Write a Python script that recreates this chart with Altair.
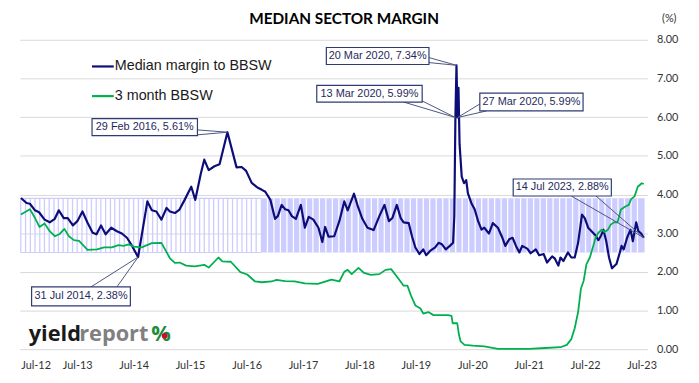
import altair as alt
import pandas as pd

# ---------------- data (decimal years, %) ----------------
margin_years = [2012.50, 2012.60, 2012.66, 2012.75, 2012.82, 2012.92, 2013.01, 2013.10, 2013.17, 2013.26,
                2013.33, 2013.42, 2013.50, 2013.59, 2013.68, 2013.77, 2013.84, 2013.92, 2014.00, 2014.10,
                2014.20, 2014.29, 2014.38, 2014.47, 2014.578, 2014.74, 2014.82, 2014.90, 2014.99, 2015.08,
                2015.14, 2015.23, 2015.31, 2015.40, 2015.52, 2015.59, 2015.69, 2015.75, 2015.83, 2015.93,
                2016.02, 2016.161, 2016.32, 2016.41, 2016.49, 2016.59, 2016.69, 2016.77, 2016.83, 2016.92,
                2017.00, 2017.05, 2017.12, 2017.18, 2017.24, 2017.30, 2017.37, 2017.46, 2017.53, 2017.60,
                2017.68, 2017.77, 2017.84, 2017.89, 2017.95, 2018.05, 2018.14, 2018.23, 2018.29, 2018.40,
                2018.47, 2018.55, 2018.64, 2018.75, 2018.85, 2018.94, 2019.02, 2019.08, 2019.16, 2019.23,
                2019.28, 2019.37, 2019.43, 2019.49, 2019.56, 2019.63, 2019.68, 2019.75, 2019.84, 2019.90,
                2019.96, 2020.03, 2020.10, 2020.158, 2020.178, 2020.197, 2020.216, 2020.235, 2020.254, 2020.273,
                2020.31, 2020.35, 2020.39, 2020.42, 2020.48, 2020.54, 2020.60, 2020.66, 2020.71, 2020.79,
                2020.86, 2020.95, 2021.03, 2021.08, 2021.15, 2021.21, 2021.27, 2021.33, 2021.38, 2021.47,
                2021.53, 2021.62, 2021.68, 2021.76, 2021.82, 2021.91, 2021.96, 2022.02, 2022.06, 2022.11,
                2022.19, 2022.25, 2022.31, 2022.37, 2022.44, 2022.49, 2022.55, 2022.61, 2022.68, 2022.73,
                2022.78, 2022.82, 2022.87, 2022.92, 2022.97, 2023.05, 2023.11, 2023.14, 2023.18, 2023.24,
                2023.30, 2023.34, 2023.40, 2023.44, 2023.49, 2023.535]
margin_values = [3.91, 3.78, 3.76, 3.59, 3.54, 3.35, 3.28, 3.37, 3.59, 3.39,
                 3.39, 3.20, 3.31, 3.56, 3.27, 3.01, 2.97, 3.20, 2.97, 3.14,
                 3.05, 2.99, 2.88, 2.67, 2.38, 3.82, 3.59, 3.56, 3.35, 3.65,
                 3.56, 3.52, 3.61, 3.86, 4.20, 3.86, 4.54, 4.90, 4.63, 4.73,
                 4.78, 5.61, 4.70, 4.71, 4.61, 4.30, 4.18, 4.12, 4.07, 3.86,
                 3.37, 3.44, 3.73, 3.62, 3.59, 3.44, 3.37, 3.73, 3.14, 3.42,
                 3.35, 3.14, 2.77, 3.16, 2.91, 2.92, 3.31, 3.82, 3.59, 4.02,
                 3.69, 3.37, 3.14, 3.08, 3.44, 3.73, 3.31, 3.39, 3.73, 3.39,
                 3.28, 3.26, 2.92, 2.63, 2.46, 2.58, 2.43, 2.54, 2.63, 2.75,
                 2.71, 2.58, 2.67, 2.75, 3.44, 5.99, 7.34, 5.99, 6.76, 5.30,
                 4.46, 4.29, 4.37, 4.03, 3.78, 3.61, 3.31, 3.09, 3.14, 2.99,
                 3.26, 3.14, 2.88, 2.67, 2.84, 2.88, 2.67, 2.50, 2.67, 2.60,
                 2.48, 2.58, 2.43, 2.46, 2.24, 2.40, 2.34, 2.16, 2.37, 2.28,
                 2.50, 2.37, 2.37, 2.75, 3.48, 3.39, 3.14, 3.05, 2.94, 2.82,
                 2.94, 3.09, 2.79, 2.37, 2.09, 2.20, 2.50, 2.67, 2.58, 2.88,
                 3.09, 2.79, 3.28, 3.05, 2.99, 2.88]

bbsw_years = [2012.50, 2012.66, 2012.75, 2012.83, 2012.92, 2013.01, 2013.10, 2013.18, 2013.27, 2013.35,
              2013.44, 2013.53, 2013.68, 2013.85, 2013.97, 2014.11, 2014.23, 2014.32, 2014.41, 2014.50,
              2014.64, 2014.82, 2014.99, 2015.14, 2015.23, 2015.31, 2015.43, 2015.58, 2015.75, 2015.83,
              2016.00, 2016.07, 2016.22, 2016.39, 2016.51, 2016.65, 2016.77, 2016.94, 2017.03, 2017.18,
              2017.35, 2017.53, 2017.76, 2018.00, 2018.14, 2018.23, 2018.29, 2018.36, 2018.48, 2018.58,
              2018.70, 2018.85, 2018.96, 2019.06, 2019.17, 2019.28, 2019.35, 2019.41, 2019.49, 2019.58,
              2019.63, 2019.72, 2019.81, 2019.96, 2020.07, 2020.13, 2020.15, 2020.23, 2020.26, 2020.29,
              2020.36, 2020.51, 2020.71, 2020.95, 2021.15, 2021.50, 2021.79, 2022.06, 2022.17, 2022.25,
              2022.31, 2022.37, 2022.42, 2022.47, 2022.52, 2022.58, 2022.64, 2022.68, 2022.73, 2022.79,
              2022.84, 2022.90, 2022.95, 2023.01, 2023.07, 2023.13, 2023.21, 2023.27, 2023.31, 2023.37,
              2023.43, 2023.50, 2023.535]
bbsw_values = [3.48, 3.62, 3.39, 3.16, 3.25, 3.05, 2.92, 2.97, 3.11, 2.92,
               2.82, 2.80, 2.57, 2.58, 2.63, 2.63, 2.69, 2.67, 2.71, 2.65,
               2.63, 2.74, 2.75, 2.35, 2.23, 2.24, 2.16, 2.14, 2.18, 2.11,
               2.37, 2.27, 2.26, 1.99, 1.93, 1.75, 1.73, 1.75, 1.79, 1.76,
               1.75, 1.70, 1.69, 1.80, 1.75, 2.00, 2.05, 1.94, 2.10, 1.97,
               1.92, 1.94, 2.05, 2.07, 1.86, 1.64, 1.64, 1.39, 1.13, 1.05,
               0.92, 0.96, 0.88, 0.88, 0.88, 0.86, 0.67, 0.67, 0.37, 0.20,
               0.11, 0.09, 0.07, 0.01, 0.01, 0.01, 0.03, 0.05, 0.11, 0.26,
               0.54, 0.96, 1.56, 1.77, 2.20, 2.37, 2.67, 2.88, 3.01, 3.09,
               3.03, 3.09, 3.22, 3.28, 3.28, 3.61, 3.69, 3.73, 3.88, 3.95,
               4.20, 4.29, 4.27]

band_low = 2.5
band_high = 3.9
band_start = "2012-07-01"
band_split = "2016-10-01"
band_end = "2023-07-20"

tick_years = list(range(2012, 2024))
y_ticks = [0, 1, 2, 3, 4, 5, 6, 7, 8]

annot_labels = ["29 Feb 2016,  5.61%", "31 Jul 2014,  2.38%", "20 Mar 2020,  7.34%",
                "13 Mar 2020,  5.99%", "27 Mar 2020,  5.99%", "14 Jul 2023,  2.88%"]
annot_point_years = [2016.161, 2014.578, 2020.216, 2020.197, 2020.235, 2023.535]
annot_point_values = [5.61, 2.38, 7.34, 5.99, 5.99, 2.88]

# ---------------- helpers ----------------
def to_ts(y):
    yr = int(y)
    a = pd.Timestamp(yr, 1, 1)
    b = pd.Timestamp(yr + 1, 1, 1)
    return (a + (b - a) * (y - yr)).normalize()

NAVY = "#0d0d7a"
GREEN = "#00b050"
LAV = "#ccccff"
BOXC = "#2f3b73"
FONT = "Lato"

margin_df = pd.DataFrame({"date": [to_ts(v) for v in margin_years], "value": margin_values})
bbsw_df = pd.DataFrame({"date": [to_ts(v) for v in bbsw_years], "value": bbsw_values})

xscale = alt.Scale(domain=[alt.DateTime(year=2012, month=6, date=25),
                           alt.DateTime(year=2023, month=8, date=8)])
yscale = alt.Scale(domain=[0, 8], nice=False)

x_axis = alt.Axis(values=[alt.DateTime(year=y, month=7, date=1) for y in tick_years],
                  format="%b-%y", title=None, grid=False, ticks=False, domain=False,
                  labelFont=FONT, labelFontSize=11, labelColor="#333333", labelPadding=11)
y_axis = alt.Axis(values=y_ticks, format=".2f", orient="right", title=None, grid=True,
                  gridColor="#d9d9d9", gridWidth=1, ticks=False, domain=False,
                  labelFont=FONT, labelFontSize=11, labelColor="#333333", labelPadding=9)


def X(field):
    return alt.X(field, scale=xscale, axis=x_axis, title=None)


def Y(field):
    return alt.Y(field, scale=yscale, axis=y_axis, title=None)


# ---------------- band ----------------
left_rules = pd.DataFrame({"date": pd.date_range(band_start, "2016-09-01", freq="MS")})
left_rules["lo"] = band_low
left_rules["hi"] = band_high
band_left_v = alt.Chart(left_rules).mark_rule(color=LAV, strokeWidth=1.3).encode(
    x=X("date:T"), y=Y("lo:Q"), y2="hi:Q")
edges = pd.DataFrame({"a": [band_start, band_start], "b": [band_split, band_split],
                      "v": [band_low, band_high]})
band_left_h = alt.Chart(edges).mark_rule(color=LAV, strokeWidth=1.2).encode(
    x=X("a:T"), x2="b:T", y=Y("v:Q"))
right_df = pd.DataFrame({"a": [band_split], "b": [band_end], "lo": [band_low], "hi": [band_high]})
band_right = alt.Chart(right_df).mark_rect(color=LAV).encode(
    x=X("a:T"), x2="b:T", y=Y("lo:Q"), y2="hi:Q")
white_df = pd.DataFrame({"date": pd.date_range("2016-11-10", "2023-07-10", freq="6W")})
white_df["lo"] = band_low
white_df["hi"] = band_high
band_white = alt.Chart(white_df).mark_rule(color="white", strokeWidth=1.3).encode(
    x=X("date:T"), y=Y("lo:Q"), y2="hi:Q")

# ---------------- lines ----------------
margin_line = alt.Chart(margin_df).mark_line(color=NAVY, strokeWidth=2.2, strokeJoin="round").encode(
    x=X("date:T"), y=Y("value:Q"))
bbsw_line = alt.Chart(bbsw_df).mark_line(color=GREEN, strokeWidth=1.8, strokeJoin="round").encode(
    x=X("date:T"), y=Y("value:Q"))

# ---------------- annotations ----------------
box_x1 = [2013.76, 2012.69, 2017.91, 2017.74, 2020.63, 2021.22]
box_x2 = [2015.63, 2014.44, 2019.73, 2019.61, 2022.46, 2022.96]
box_top = [5.96, 1.61, 7.80, 6.82, 6.62, 4.40]
box_bot = [5.52, 1.12, 7.36, 6.39, 6.16, 3.96]
boxes = pd.DataFrame({
    "x1": [to_ts(v) for v in box_x1], "x2": [to_ts(v) for v in box_x2],
    "y1": box_top, "y2": box_bot, "label": annot_labels,
    "xm": [to_ts((a + b) / 2) for a, b in zip(box_x1, box_x2)],
    "ym": [(a + b) / 2 for a, b in zip(box_top, box_bot)],
})
lead_from_x = [2015.63, 2015.46, 2013.74, 2014.20, 2019.73, 2019.73,
               2019.28, 2019.58, 2020.63, 2020.75, 2022.25, 2022.69]
lead_from_y = [5.67, 5.52, 1.61, 1.61, 7.54, 7.41,
               6.39, 6.44, 6.34, 6.16, 3.96, 3.96]
lead_to_idx = [0, 0, 1, 1, 2, 2, 3, 3, 4, 4, 5, 5]
leads = pd.DataFrame({
    "x": [to_ts(v) for v in lead_from_x], "y": lead_from_y,
    "x2": [to_ts(annot_point_years[i]) for i in lead_to_idx],
    "y2": [annot_point_values[i] for i in lead_to_idx],
})
lead_layer = alt.Chart(leads).mark_rule(color="#4a5680", strokeWidth=1).encode(
    x=X("x:T"), x2="x2:T", y=Y("y:Q"), y2="y2:Q")
box_layer = alt.Chart(boxes).mark_rect(fill="white", stroke=BOXC, strokeWidth=1.2).encode(
    x=X("x1:T"), x2="x2:T", y=Y("y1:Q"), y2="y2:Q")
box_text = alt.Chart(boxes).mark_text(font="Liberation Sans", fontSize=11, color="#1f2a5c").encode(
    x=X("xm:T"), y=Y("ym:Q"), text="label:N")

# ---------------- legend ----------------
def legend_item(label, color, ypix):
    line = alt.Chart(pd.DataFrame({"k": [0]})).mark_rule(color=color, strokeWidth=2.2).encode(
        x=alt.value(73), x2=alt.value(95), y=alt.value(ypix))
    txt = alt.Chart(pd.DataFrame({"t": [label]})).mark_text(
        align="left", baseline="middle", font="Liberation Sans", fontSize=14.5, color="#1a1a1a"
    ).encode(x=alt.value(96), y=alt.value(ypix), text="t:N")
    return line + txt

legend = legend_item("Median margin to BBSW", NAVY, 27) + legend_item("3 month BBSW", GREEN, 57)

# ---------------- logo, unit, title ----------------
def word(t, color, xpix, size=22):
    return alt.Chart(pd.DataFrame({"t": [t]})).mark_text(
        align="left", baseline="alphabetic", font="Open Sans", fontWeight="bold",
        fontSize=size, color=color).encode(x=alt.value(xpix), y=alt.value(305), text="t:N")

logo = word("yield", "#1a1a1a", 9) + word("report", "#808080", 60) + word("%", "#1e8c3a", 133)
logo_dot = alt.Chart(pd.DataFrame({"k": [0]})).mark_point(
    filled=True, shape="circle", color="#c8102e", size=34, opacity=1
).encode(x=alt.value(146.5), y=alt.value(299.5))
unit = alt.Chart(pd.DataFrame({"t": ["(%)"]})).mark_text(
    align="center", baseline="middle", font=FONT, fontSize=11, color="#333333"
).encode(x=alt.value(657), y=alt.value(-21), text="t:N")
title = alt.Chart(pd.DataFrame({"t": ["MEDIAN SECTOR MARGIN"]})).mark_text(
    align="center", baseline="middle", font=FONT, fontSize=15.5, fontWeight="bold", color="#000000"
).encode(x=alt.value(328), y=alt.value(-21), text="t:N")

chart = alt.layer(
    band_left_v, band_left_h, band_right, band_white,
    margin_line, bbsw_line, lead_layer, box_layer, box_text, legend, logo, logo_dot, unit, title,
).properties(
    width=635, height=313,
    padding={"left": 12, "top": 30, "right": 44, "bottom": 24},
    autosize=alt.AutoSizeParams(type="none"),
).configure(background="white").configure_view(stroke=None)

chart.save("out.html", embed_options={"renderer": "svg", "actions": False})
